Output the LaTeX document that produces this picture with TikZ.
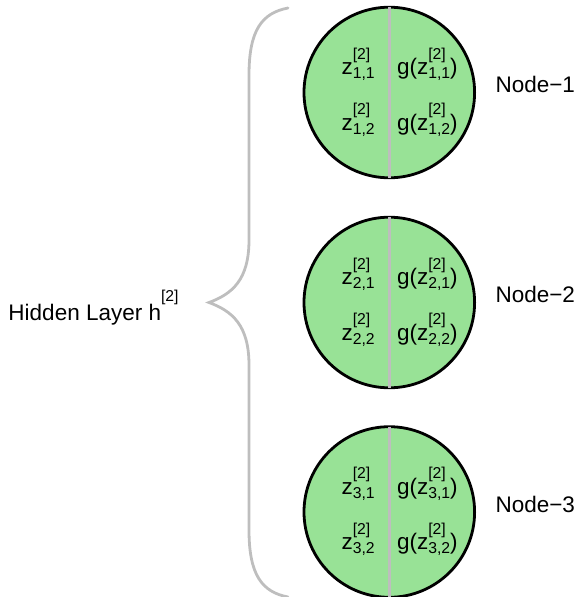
\documentclass[tikz,border=0pt]{standalone}
\usepackage{fontspec}
\setmainfont{Liberation Sans}
\definecolor{nodegreen}{RGB}{152,226,150}
\definecolor{lightgr}{RGB}{190,190,190}
\newcommand\smallfnt{\fontsize{15.75}{16}\selectfont}
\newcommand\zlab[1]{z\rlap{\raisebox{15.5pt}{\smallfnt[2]}}\raisebox{-4pt}{\smallfnt #1}}
\begin{document}
\begin{tikzpicture}[x=1pt,y=-1pt,
  every node/.style={font=\fontsize{22.5}{26}\selectfont},
  neuron/.style={circle,draw=black,line width=2.8pt,fill=nodegreen,minimum size=170.6pt,inner sep=0pt,outer sep=0pt},
  divider/.style={draw=lightgr,line width=2.6pt},
  lbl/.style={anchor=base west,inner sep=0pt,outer sep=0pt},
  bracestyle/.style={draw=lightgr,line width=2.8pt,line cap=round}]
\useasboundingbox (0,0) rectangle (581,597);
\foreach \i/\cy in {1/92.5,2/302.5,3/512} {
  \node[neuron] (c\i) at (389.3,\cy) {};
  \draw[divider] (c\i.north) -- (c\i.south);
  \node[lbl] (za\i) at (341.5,\cy-18) {\zlab{\i,1}};
  \node[lbl] (zb\i) at (341.5,\cy+37.5) {\zlab{\i,2}};
  \node[lbl] (ga\i) at (397,\cy-18) {g(\zlab{\i,1})};
  \node[lbl] (gb\i) at (397,\cy+37.5) {g(\zlab{\i,2})};
  \node[lbl] (n\i) at (495.5,\cy) {Node−\i};
}
\coordinate (btop) at (288,8);
\coordinate (btip) at (209,302.5);
\coordinate (bbot) at (288,597);
\draw[bracestyle] (btop) .. controls (262,13) and (249,30) .. (249,75)
  -- (249,240) .. controls (249,280) and (232,294) .. (btip)
  .. controls (232,311) and (249,325) .. (249,365)
  -- (249,530) .. controls (249,575) and (262,592) .. (bbot);
\node[lbl] (hid) at (8.5,320) {Hidden Layer h\rlap{\raisebox{18.8pt}{\smallfnt[2]}}};
\end{tikzpicture}
\end{document}
